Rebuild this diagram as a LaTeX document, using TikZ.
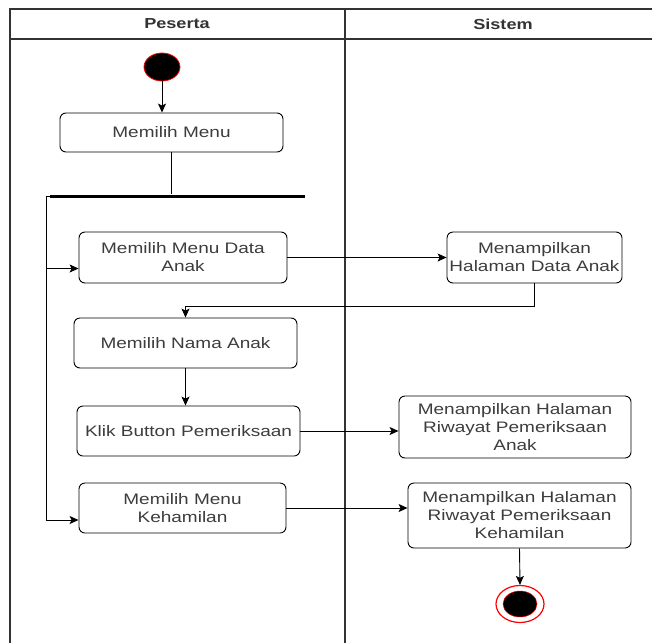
\documentclass[tikz,border=0pt]{standalone}
\usepackage{fontspec}
\setmainfont{Liberation Sans}[FakeStretch=1.25]
\usetikzlibrary{arrows.meta, shapes.geometric}
\definecolor{lanegray}{HTML}{333333}
\definecolor{txtgray}{HTML}{3C3C3C}

\begin{document}
\begin{tikzpicture}[x=1pt, y=-1pt, >={Stealth[length=9pt, width=8pt, inset=2pt]},
    lane/.style={draw=lanegray, line width=1.4pt},
    act/.style={draw, line width=0.9pt, rounded corners=6pt, align=center, inner sep=0pt,
        text=txtgray, font=\fontsize{15.2}{18}\selectfont},
    arr/.style={->, line width=0.9pt}]
    \useasboundingbox (0,0) rectangle (652,643);

    % Swimlanes
    \draw[lane] (9,9) -- (652,9);
    \draw[lane] (9,39) -- (652,39);
    \draw[lane] (10,9) -- (10,643);
    \draw[lane] (345,9) -- (345,643);
    \node[font=\fontsize{14.5}{17}\selectfont\bfseries, text=lanegray] (peserta) at (177,24) {Peserta};
    \node[font=\fontsize{14.5}{17}\selectfont\bfseries, text=lanegray] (sistem) at (503,24) {Sistem};

    % Start and fork
    \node[ellipse, fill=black, draw=red, line width=0.8pt, minimum width=36pt, minimum height=28pt] (start) at (162,67) {};
    \node[act, minimum width=223pt, minimum height=39pt] (menu) at (171.5,132.5) {Memilih Menu};
    \node[fill=black, minimum width=255pt, minimum height=3pt, inner sep=0pt] (fork) at (177.5,196) {};

    % Actions
    \node[act, minimum width=208pt, minimum height=51pt] (dataanak) at (183,257.5) {Memilih Menu Data\\Anak};
    \node[act, minimum width=175pt, minimum height=51pt] (tampildata) at (534.5,257.5) {Menampilkan\\Halaman Data Anak};
    \node[act, minimum width=223pt, minimum height=50pt] (nama) at (185.5,343) {Memilih Nama Anak};
    \node[act, minimum width=223pt, minimum height=50pt] (klik) at (188.5,431) {Klik Button Pemeriksaan};
    \node[act, minimum width=232pt, minimum height=62pt] (riwayatanak) at (515,427) {Menampilkan Halaman\\Riwayat Pemeriksaan\\Anak};
    \node[act, minimum width=207pt, minimum height=50pt] (kehamilan) at (182.5,508) {Memilih Menu\\Kehamilan};
    \node[act, minimum width=223pt, minimum height=65pt] (riwayathamil) at (519.5,515.5) {Menampilkan Halaman\\Riwayat Pemeriksaan\\Kehamilan};

    % End
    \node[ellipse, fill=white, draw=red, line width=1.2pt, minimum width=48pt, minimum height=37pt] (end) at (520,604) {};
    \node[ellipse, fill=black, draw=red, line width=0.5pt, minimum width=34pt, minimum height=26pt] (endin) at (end) {};

    % Flow
    \draw[arr] (start.south) -- (start.south |- menu.north);
    \draw[line width=0.9pt] (menu.south) -- (menu.south |- fork.north);
    \draw[arr] (fork.west) -- ++(-3,0) |- ([yshift=-11pt]dataanak.west);
    \draw[arr] (fork.west) -- ++(-3,0) |- ([yshift=-12pt]kehamilan.west);
    \draw[arr] (dataanak.east) -- (tampildata.west);
    \draw[arr] (tampildata.south) -- ++(0,23) -| (nama.north);
    \draw[arr] (nama.south) -- (nama.south |- klik.north);
    \draw[arr] (klik.east) -- (riwayatanak.west |- klik.east);
    \draw[arr] (kehamilan.east) -- (riwayathamil.west |- kehamilan.east);
    \draw[arr] (riwayathamil.south) -- (end.north);
\end{tikzpicture}
\end{document}
